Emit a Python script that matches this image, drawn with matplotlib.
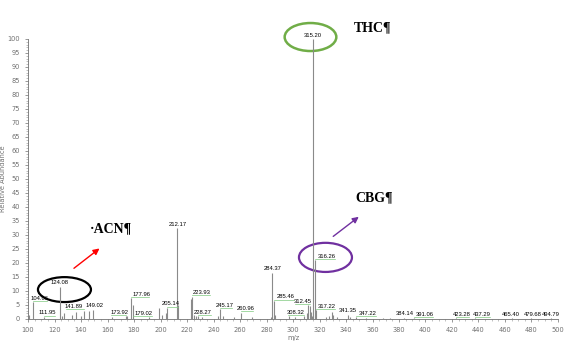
import matplotlib
matplotlib.use("Agg")
import matplotlib.pyplot as plt
from matplotlib.patches import Ellipse

# labelled peaks (m/z, relative abundance)
labelled_mz = [104.06, 111.95, 124.08, 141.89, 149.02, 173.92, 177.96, 179.02,
               205.14, 212.17, 223.93, 228.27, 245.17, 260.96, 284.37, 285.46,
               308.32, 312.45, 315.20, 316.26, 317.22, 341.35, 347.22, 384.14,
               391.06, 423.28, 437.29, 465.40, 479.68, 494.79]
labelled_int = [6.0, 0.8, 11.5, 3.0, 3.3, 1.0, 7.5, 0.5,
                4.0, 32.5, 8.0, 1.0, 3.5, 2.3, 16.5, 6.5,
                1.0, 4.8, 100.0, 21.0, 3.2, 1.5, 0.6, 0.4,
                0.3, 0.2, 0.2, 0.2, 0.2, 0.2]

# smaller unlabelled peaks
minor_mz = [100.9, 126.0, 127.1, 133.5, 135.9, 140.1, 145.9, 163.1, 175.0, 178.9,
            191.1, 198.9, 201.2, 203.9, 213.2, 222.9, 224.9, 226.9, 231.1, 243.1,
            247.1, 255.1, 269.2, 283.3, 286.4, 297.2, 301.2, 310.3, 311.4, 313.3,
            314.2, 325.2, 327.3, 329.3, 330.3, 333.3, 343.3, 355.2, 368.2, 373.2]
minor_int = [1.5, 1.2, 2.0, 1.5, 2.5, 1.2, 2.7, 0.6, 1.0, 5.0,
             0.8, 4.0, 1.5, 2.0, 5.0, 7.0, 1.5, 1.2, 0.6, 1.0,
             1.0, 0.6, 0.6, 0.8, 1.5, 1.0, 0.6, 2.0, 5.0, 2.5,
             1.0, 0.8, 1.0, 2.5, 1.5, 0.8, 0.8, 0.5, 0.4, 0.3]

# horizontal label shifts in pixels, as the software placed them
label_dx = {104.06: 6, 111.95: 3, 141.89: -10, 149.02: 2, 173.92: -6.5,
            177.96: 10, 179.02: 11, 205.14: 3, 212.17: 1, 223.93: 9.5,
            228.27: 5, 245.17: 4, 260.96: 4, 285.46: 12, 308.32: -8,
            312.45: -7, 316.26: 12, 317.22: 11, 347.22: 12, 391.06: 11,
            423.28: 5, 437.29: 7, 465.40: -1, 479.68: 2}

fig = plt.figure(figsize=(5.72, 3.5), dpi=100)
ax = fig.add_axes([0.049, 0.0886, 0.9265, 0.80])
px_x = 400 / 530.0  # m/z per pixel

ax.vlines(minor_mz, 0, minor_int, color="#8a8a8a", lw=0.8)
ax.vlines(labelled_mz, 0, labelled_int, color="#8a8a8a", lw=0.8)

for mz, val in zip(labelled_mz, labelled_int):
    dx = label_dx.get(mz, 0)
    ax.annotate(f"{mz:.2f}", (mz, val), xytext=(dx * 0.72, 1.0),
                textcoords="offset points", ha="center", va="bottom",
                fontsize=4.2, family="Liberation Sans", color="black")
    if abs(dx) > 2:
        x0 = mz
        x1 = mz + (dx + (8 if dx > 0 else -8)) * px_x
        ax.plot([x0, x1], [val + 0.4, val + 0.4], color="#7fc97f", lw=0.5)

ax.set_xlim(100, 500)
ax.set_ylim(0, 100)
ax.set_xticks(range(100, 501, 20))
ax.set_yticks(range(0, 101, 5))
ax.set_xticks(range(100, 501, 5), minor=True)
ax.set_yticks(range(0, 101, 1), minor=True)
ax.tick_params(labelsize=4.8, colors="#707070", length=2.5, width=0.5)
ax.tick_params(which="minor", length=1.5, width=0.4, colors="#909090")
for s in ["top", "right"]:
    ax.spines[s].set_visible(False)
for s in ["left", "bottom"]:
    ax.spines[s].set_color("#707070")
    ax.spines[s].set_linewidth(0.6)
ax.set_xlabel("m/z", fontsize=4.8, color="#707070", labelpad=1)
ax.set_ylabel("Relative Abundance", fontsize=4.8, color="#707070", labelpad=1)

# hand-drawn highlights
serif = dict(family="Liberation Serif", fontweight="bold", fontsize=10, color="black")
ax.add_patch(Ellipse((313.2, 100.7), 39, 10, fill=False, ec="#70ad47", lw=1.8, clip_on=False))
ax.text(346, 103.9, "THC¶", va="center", ha="left", **serif)

ax.add_patch(Ellipse((127.5, 10.5), 40, 8.9, fill=False, ec="black", lw=1.6, clip_on=False))
ax.annotate("", (155.6, 25.8), xytext=(133, 17.5),
            arrowprops=dict(arrowstyle="-|>", color="red", lw=1.0, mutation_scale=9))
ax.text(146.5, 32.1, "·ACN¶", va="center", ha="left", **serif)

ax.add_patch(Ellipse((324.5, 22), 40, 10.4, fill=False, ec="#7030a0", lw=1.6, clip_on=False))
ax.annotate("", (351.3, 37.1), xytext=(328.7, 28.9),
            arrowprops=dict(arrowstyle="-|>", color="#7030a0", lw=1.0, mutation_scale=9))
ax.text(346.8, 43.2, "CBG¶", va="center", ha="left", **serif)

fig.savefig("out.png", dpi=100)
